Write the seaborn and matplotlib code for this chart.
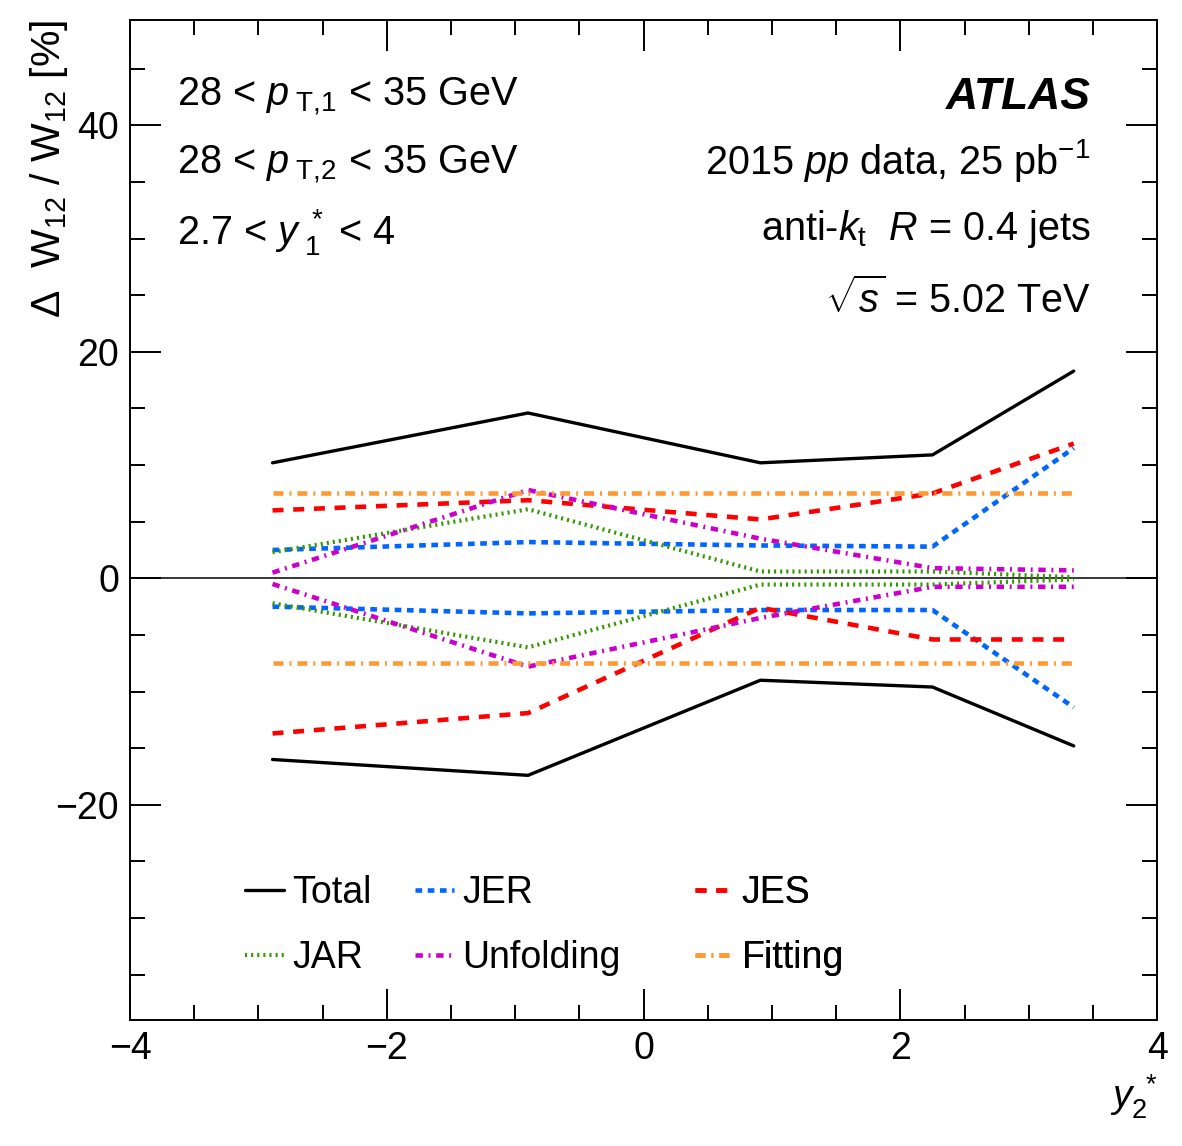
import matplotlib
matplotlib.use("Agg")
import matplotlib.pyplot as plt
import pandas as pd
import seaborn as sns
from matplotlib.ticker import MultipleLocator

# values
y2_star = [-2.89, -0.90, 0.91, 2.25, 3.35]

total_up = [10.2, 14.6, 10.2, 10.9, 18.3]
total_down = [-16.0, -17.4, -9.0, -9.6, -14.8]
jer_up = [2.5, 3.2, 2.9, 2.8, 11.5]
jer_down = [-2.5, -3.1, -2.8, -2.8, -11.4]
jes_up = [6.0, 6.9, 5.2, 7.5, 11.9]
jes_down = [-13.7, -11.9, -2.6, -5.4, -5.4]
jar_up = [2.3, 6.1, 0.6, 0.6, 0.1]
jar_down = [-2.2, -6.1, -0.55, -0.55, -0.1]
unf_up = [0.5, 7.8, 3.5, 0.9, 0.7]
unf_down = [-0.5, -7.8, -3.5, -0.75, -0.75]
fit_up = [7.5, 7.5, 7.5, 7.5, 7.5]
fit_down = [-7.5, -7.5, -7.5, -7.5, -7.5]

sources = ["Total", "JER", "JES", "JAR", "Unfolding", "Fitting"]
upper = [total_up, jer_up, jes_up, jar_up, unf_up, fit_up]
lower = [total_down, jer_down, jes_down, jar_down, unf_down, fit_down]

styles = {
    "Total": dict(color="black", lw=2.4, ls="-"),
    "JER": dict(color="#0066ff", lw=3.3, ls=(0, (4.8, 4.0))),
    "JES": dict(color="#ff0000", lw=3.3, ls=(0, (7.9, 7.0))),
    "JAR": dict(color="#339900", lw=3.0, ls=(0, (1.5, 2.9))),
    "Unfolding": dict(color="#cc00cc", lw=3.3, ls=(0, (5.3, 4.1, 1.4, 4.1))),
    "Fitting": dict(color="#ff9933", lw=3.3, ls=(0, (7.2, 4.3, 1.4, 4.3))),
}

rows = []
for name, up, dn in zip(sources, upper, lower):
    for x, u, d in zip(y2_star, up, dn):
        rows.append({"source": name, "side": "up", "x": x, "y": u})
        rows.append({"source": name, "side": "down", "x": x, "y": d})
df = pd.DataFrame(rows)

sns.set_style("ticks")
plt.rcParams["font.family"] = ["Liberation Sans", "DejaVu Sans"]
plt.rcParams["mathtext.fontset"] = "custom"
plt.rcParams["mathtext.rm"] = "Liberation Sans"
plt.rcParams["mathtext.it"] = "Liberation Sans:italic"
plt.rcParams["mathtext.bf"] = "Liberation Sans:bold"
plt.rcParams["lines.scale_dashes"] = False
for key in ["text.color", "axes.labelcolor", "xtick.color", "ytick.color",
            "axes.edgecolor"]:
    plt.rcParams[key] = "black"

fs = 27
fs_txt = 28.5

fig = plt.figure(figsize=(11.82, 11.46), dpi=100)
ax = fig.add_axes([0.110, 0.110, 0.869, 0.8725])

handles = {}
for name in sources:
    st = styles[name]
    for side in ["up", "down"]:
        sub = df[(df["source"] == name) & (df["side"] == side)]
        sns.lineplot(data=sub, x="x", y="y", ax=ax, color=st["color"],
                     linewidth=st["lw"], linestyle=st["ls"], legend=False,
                     estimator=None, sort=True)
    handles[name] = ax.lines[-1]

ax.axhline(0, color="black", lw=1.1, zorder=1)

ax.set_xlim(-4, 4)
ax.set_ylim(-39, 49.3)
ax.xaxis.set_major_locator(MultipleLocator(2))
ax.xaxis.set_minor_locator(MultipleLocator(0.5))
ax.yaxis.set_major_locator(MultipleLocator(20))
ax.yaxis.set_minor_locator(MultipleLocator(5))
ax.tick_params(which="both", direction="in", top=True, right=True,
               width=1.4, labelsize=fs)
ax.tick_params(which="major", length=22, pad=8)
ax.tick_params(which="minor", length=11)
for sp in ax.spines.values():
    sp.set_linewidth(1.4)

ax.set_xlabel(r"$y_{2}^{\ *}$", fontsize=fs + 1, loc="right")
ax.set_ylabel(r"$\Delta\ \ \mathrm{W}_{12}\ /\ \mathrm{W}_{12}$ [%]",
              fontsize=fs + 2.5, loc="top")
ax.yaxis.set_label_coords(-0.058, 1.0)

# legend split in three columns
cols = [(["Total", "JAR"], 0.112), (["JER", "Unfolding"], 0.2775),
        (["JES", "Fitting"], 0.550)]
for names, xf in cols:
    leg = ax.legend([handles[n] for n in names], names, loc="upper left",
                    bbox_to_anchor=(xf, 0.145), frameon=False, fontsize=fs,
                    handlelength=1.05, handletextpad=0.2, labelspacing=0.78,
                    borderpad=0, borderaxespad=0)
    ax.add_artist(leg)

tr = ax.transAxes
ax.text(0.046, 0.914, r"28 < $p_{\ \mathrm{T{,}1}}$ < 35 GeV", transform=tr,
        fontsize=fs_txt, va="baseline", ha="left")
ax.text(0.046, 0.846, r"28 < $p_{\ \mathrm{T{,}2}}$ < 35 GeV", transform=tr,
        fontsize=fs_txt, va="baseline", ha="left")
ax.text(0.046, 0.776, r"2.7 < $y_{\ 1}^{\ *}$ < 4", transform=tr,
        fontsize=fs_txt, va="baseline", ha="left")

ax.text(0.935, 0.911, "ATLAS", transform=tr, fontsize=32,
        fontweight="bold", fontstyle="italic", va="baseline", ha="right")
ax.text(0.935, 0.846, r"2015 $pp$ data, 25 pb$^{\mathrm{-1}}$", transform=tr,
        fontsize=fs_txt, va="baseline", ha="right")
ax.text(0.935, 0.780, r"anti-$k_{\mathrm{t}}\ \ R$ = 0.4 jets", transform=tr,
        fontsize=fs_txt, va="baseline", ha="right")
ax.text(0.935, 0.707, r"$\sqrt{s}$ = 5.02 TeV", transform=tr,
        fontsize=fs_txt, va="baseline", ha="right")

fig.savefig("out.png", dpi=100)
